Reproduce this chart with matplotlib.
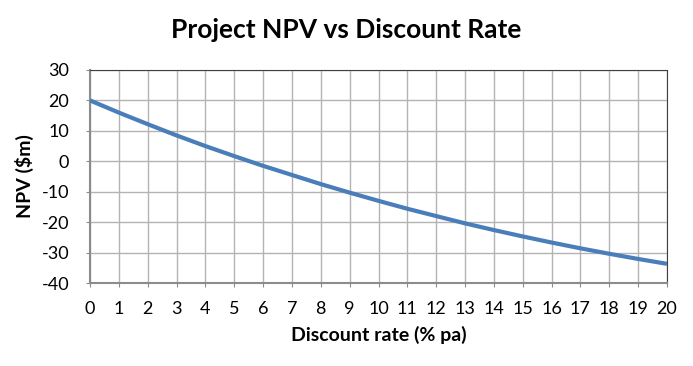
import matplotlib
matplotlib.use("Agg")
import matplotlib.pyplot as plt

# Discount rate (% pa) and project NPV ($m)
rates = list(range(0, 21))
npv = [20.0, 16.0, 12.2, 8.5, 5.0, 1.7, -1.5, -4.5, -7.5, -10.3, -13.0,
       -15.6, -18.0, -20.4, -22.6, -24.7, -26.7, -28.6, -30.4, -32.1, -33.7]
y_ticks = [-40, -30, -20, -10, 0, 10, 20, 30]

plt.rcParams["font.family"] = ["Lato", "DejaVu Sans"]
plt.rcParams["axes.unicode_minus"] = False

fig = plt.figure(figsize=(6.93, 3.66), dpi=100)
ax = fig.add_axes([90 / 693, 1 - 283 / 366, 577 / 693, 213 / 366])

ax.plot(rates, npv, color="#4A7EBB", linewidth=3, solid_capstyle="butt", zorder=3)

ax.set_xlim(0, 20)
ax.set_ylim(-40, 30)
ax.set_xticks(rates)
ax.set_yticks(y_ticks)
ax.grid(True, color="#B3B3B3", linewidth=1)
ax.set_axisbelow(True)

for side in ["top", "right"]:
    ax.spines[side].set_color("#404040")
for side in ["left", "bottom"]:
    ax.spines[side].set_color("#8C8C8C")
    ax.spines[side].set_linewidth(1.5)
ax.tick_params(axis="both", labelsize=13, length=3, color="#8C8C8C")
ax.tick_params(axis="y", pad=12)
ax.tick_params(axis="x", pad=10)

fig.text(0.5, 1 - 30 / 366, "Project NPV vs Discount Rate", ha="center", va="center",
         fontsize=19, fontweight="bold")
ax.set_xlabel("Discount rate (% pa)", fontsize=14, fontweight="bold")
ax.set_ylabel("NPV ($m)", fontsize=14, fontweight="bold")
ax.xaxis.set_label_coords(0.5, (283 - 335) / 213)
ax.yaxis.set_label_coords((24 - 90) / 577, 0.5)
ax.xaxis.label.set_va("center")
ax.yaxis.label.set_va("center")

fig.savefig("out.png", dpi=100)
